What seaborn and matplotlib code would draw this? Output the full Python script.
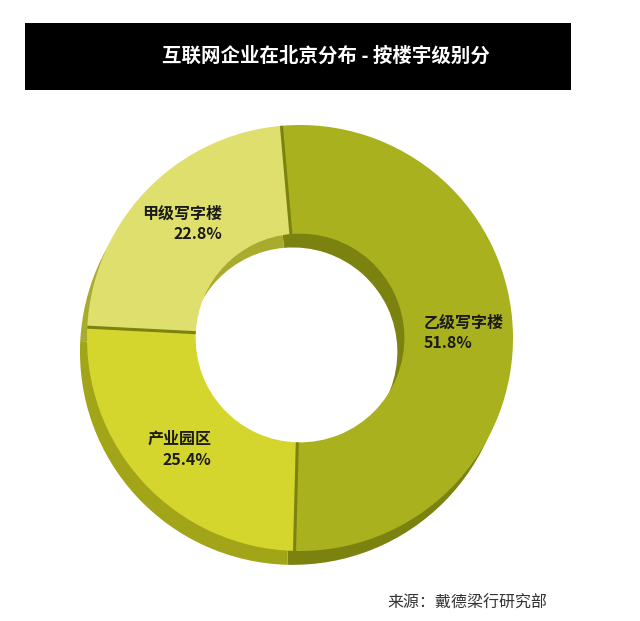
import numpy as np
import matplotlib
matplotlib.use('Agg')
import matplotlib.pyplot as plt
from matplotlib.patches import Rectangle
import seaborn as sns

sns.set_theme(style='white')
plt.rcParams['font.family'] = ['Noto Sans CJK SC', 'DejaVu Sans']

title = '互联网企业在北京分布 - 按楼宇级别分'
source = '来源：戴德梁行研究部'
categories = ['乙级写字楼', '产业园区', '甲级写字楼']
shares = [51.8, 25.4, 22.8]
face_colors = ['#a9b11e', '#d4d62e', '#dedf6c']
side_colors = ['#7b8210', '#a2a518', '#a9ab2e']

RING = 0.51

fig = plt.figure(figsize=(6.4, 6.21), dpi=100)
ax = fig.add_axes([0, 0, 1, 1])

# extruded "side" of the donut, shifted down-left
ax.pie(shares, colors=side_colors, startangle=95, counterclock=False,
       radius=1.0, center=(-0.033, -0.065),
       wedgeprops=dict(width=RING, linewidth=0))
wedges, _ = ax.pie(shares, colors=face_colors, startangle=95, counterclock=False,
                   radius=1.0, center=(0, 0),
                   wedgeprops=dict(width=RING, linewidth=0))

# dark seams between slices
for w in wedges:
    t = np.deg2rad(w.theta1)
    r = np.array([1 - RING, 1.0])
    ax.plot(r * np.cos(t), r * np.sin(t), color='#7b8210', lw=2.2,
            solid_capstyle='butt', zorder=5)

for w, cat, val in zip(wedges, categories, shares):
    mid = np.deg2rad((w.theta1 + w.theta2) / 2)
    x, y = 0.77 * np.cos(mid), 0.77 * np.sin(mid)
    ax.text(x, y, f'{cat}\n{val:.1f}%', ha='center', va='center',
            multialignment='right' if x < 0 else 'left',
            fontsize=11.5, fontweight='bold', color='#1a1a1a', linespacing=1.35,
            zorder=6)

ax.set_xlim(-300 / 213, 340 / 213)
ax.set_ylim(-283 / 213, 338 / 213)
ax.axis('off')

# title bar
fig.patches.append(Rectangle((0.039, 0.855), 0.853, 0.108, transform=fig.transFigure,
                             facecolor='black', edgecolor='none', zorder=0))
fig.text(0.509, 0.909, title, ha='center', va='center', color='white',
         fontsize=14, fontweight='bold')
fig.text(0.606, 0.029, source, ha='left', va='center', color='#333333', fontsize=11.5)

fig.savefig('out.png', dpi=100)
